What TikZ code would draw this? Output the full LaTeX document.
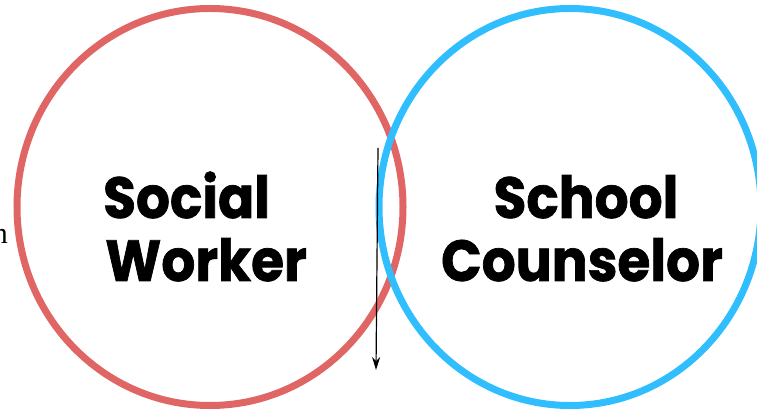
\documentclass[tikz,border=0pt]{standalone}
\usepackage{fontspec}
\newfontfamily\popfont[FakeStretch=0.92,BoldFeatures={FakeBold=1.2}]{Poppins}
\newfontfamily\serfont{Liberation Serif}
\usetikzlibrary{shapes.geometric,arrows.meta}
\definecolor{swred}{HTML}{E06666}
\definecolor{scblue}{HTML}{30BEFF}
\begin{document}
\begin{tikzpicture}[x=1pt,y=1pt,
  ring/.style={draw,ellipse,line width=7pt,inner sep=0pt,outer sep=0pt},
  big/.style={font=\popfont\bfseries\fontsize{58}{63}\selectfont,inner sep=0pt},
  conn/.style={-{Stealth[length=13pt,width=8pt]},line width=1.2pt,black}]
\useasboundingbox (0,0) rectangle (757,409);
\node[ring,swred,minimum width=386pt,minimum height=397pt] (sw) at (210,202) {};
\node[ring,scblue,minimum width=382pt,minimum height=397pt] (sc) at (570,202) {};
\node[big,anchor=base west] (sw1) at (103,191) {Social};
\node[big,anchor=base west] (sw2) at (105,128) {Worker};
\node[big,anchor=base] (sc1) at (586,191) {School};
\node[big,anchor=base] (sc2) at (582,128) {Counselor};
\node[font=\serfont\fontsize{30}{34}\selectfont,anchor=base east,inner sep=0pt] (frag) at (8,165) {n};
\coordinate (a1) at (378,261);
\coordinate (a2) at (376,39);
\draw[conn] (a1) -- (a2);
\end{tikzpicture}
\end{document}
